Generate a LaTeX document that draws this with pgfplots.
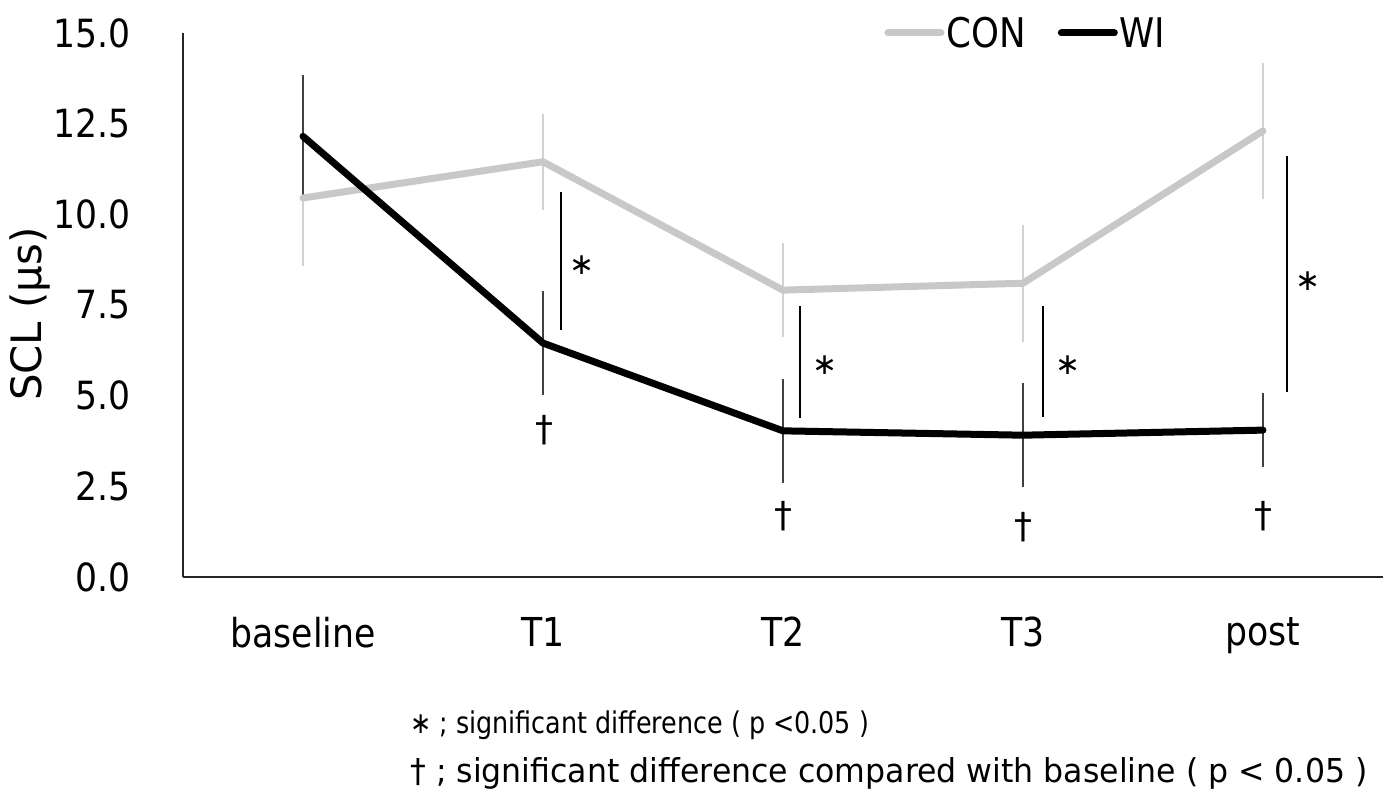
\documentclass[border=0pt]{standalone}
\usepackage{fontspec}
\setmainfont{DejaVu Sans}
\usepackage{graphicx}
\usepackage{pgfplots}
\pgfplotsset{compat=1.18}
\definecolor{conline}{HTML}{C8C8C8}
\definecolor{conbar}{HTML}{D2D2D2}
\definecolor{wibar}{HTML}{404040}
\newcommand{\xl}[1]{\scalebox{0.87}[1]{#1}}
\newcommand{\yl}[1]{\scalebox{0.89}[1]{#1}}
\begin{document}
\begin{tikzpicture}
\path[use as bounding box] (-183bp,-214bp) rectangle (1207bp,577bp);
\begin{axis}[
  scale only axis, width=1200bp, height=544bp,
  xmin=-0.5, xmax=4.5, ymin=0, ymax=15,
  axis x line*=bottom, axis y line*=left,
  axis line style={-, line width=1.5bp, black!85},
  xtick={0,1,2,3,4}, xticklabels={\xl{baseline},\xl{T1},\xl{T2},\xl{T3},\xl{post}},
  ytick={0,2.5,5,7.5,10,12.5,15},
  yticklabels={\yl{0.0},\yl{2.5},\yl{5.0},\yl{7.5},\yl{10.0},\yl{12.5},\yl{15.0}},
  major tick length=0pt,
  yticklabel style={font=\fontsize{39}{44}\selectfont, inner sep=0pt, xshift=-52bp},
  xticklabel style={font=\fontsize{40}{46}\selectfont, inner sep=0pt, yshift=-40bp},
  ylabel={SCL (μs)},
  every axis y label/.style={at={(axis description cs:-0.1275,0.483)}, rotate=90, anchor=center},
  ylabel style={font=\fontsize{42}{48}\selectfont},
  clip=false,
  legend columns=2,
  legend style={at={(axis description cs:0.7025,1)}, anchor=center, draw=none, fill=none, font=\fontsize{41}{48}\selectfont, /tikz/every even column/.append style={column sep=30bp}},
  legend image code/.code={\draw[#1] (0bp,0bp) -- (53bp,0bp);},
]
% error bars
\addplot[forget plot, draw=none, mark=none, error bars/.cd, y dir=both, y explicit, error mark=none, error bar style={draw=conbar, line width=2bp}]
 coordinates {(0,10.45) +- (0,1.88) (1,11.45) +- (0,1.33) (2,7.91) +- (0,1.29) (3,8.1) +- (0,1.61) (4,12.3) +- (0,1.88)};
\addplot[forget plot, draw=none, mark=none, error bars/.cd, y dir=both, y explicit, error mark=none, error bar style={draw=wibar, line width=2bp}]
 coordinates {(0,12.15) +- (0,1.68) (1,6.45) +- (0,1.44) (2,4.03) +- (0,1.44) (3,3.91) +- (0,1.43) (4,4.05) +- (0,1.03)};
% lines
\addplot[conline, line width=7bp, line join=round, line cap=round] coordinates {(0,10.45) (1,11.45) (2,7.91) (3,8.1) (4,12.3)};
\addlegendentry{\scalebox{0.87}[1]{CON}}
\addplot[black, line width=7bp, line join=round, line cap=round] coordinates {(0,12.15) (1,6.45) (2,4.03) (3,3.91) (4,4.05)};
\addlegendentry{\scalebox{0.87}[1]{WI}}
% significance bars
\addplot[forget plot, black, line width=2.5bp] coordinates {(1.075,10.61) (1.075,6.81)};
\addplot[forget plot, black, line width=2.5bp] coordinates {(2.07,7.47) (2.07,4.38)};
\addplot[forget plot, black, line width=2.5bp] coordinates {(3.083,7.47) (3.083,4.41)};
\addplot[forget plot, black, line width=2.5bp] coordinates {(4.1,11.6) (4.1,5.10)};
\node at (axis cs:1.1625,8.6) {\fontsize{30}{36}\selectfont ∗};
\node at (axis cs:2.175,5.85) {\fontsize{30}{36}\selectfont ∗};
\node at (axis cs:3.1875,5.85) {\fontsize{30}{36}\selectfont ∗};
\node at (axis cs:4.1875,8.15) {\fontsize{30}{36}\selectfont ∗};
\node at (axis cs:1.008,4.05) {\fontsize{36}{40}\selectfont †};
\node at (axis cs:2.0,1.68) {\fontsize{36}{40}\selectfont †};
\node at (axis cs:3.0,1.38) {\fontsize{36}{40}\selectfont †};
\node at (axis cs:4.0,1.68) {\fontsize{36}{40}\selectfont †};
% footnotes
\node[anchor=west, inner sep=0pt] at (axis cs:0.446,-4.1) {\scalebox{0.85}[1]{\fontsize{30}{36}\selectfont ∗ ; significant difference ( p <0.05 )}};
\node[anchor=west, inner sep=0pt] at (axis cs:0.446,-5.42) {\scalebox{0.96}[1]{\fontsize{33}{38}\selectfont † ; significant difference compared with baseline ( p < 0.05 )}};
\end{axis}
\end{tikzpicture}
\end{document}
